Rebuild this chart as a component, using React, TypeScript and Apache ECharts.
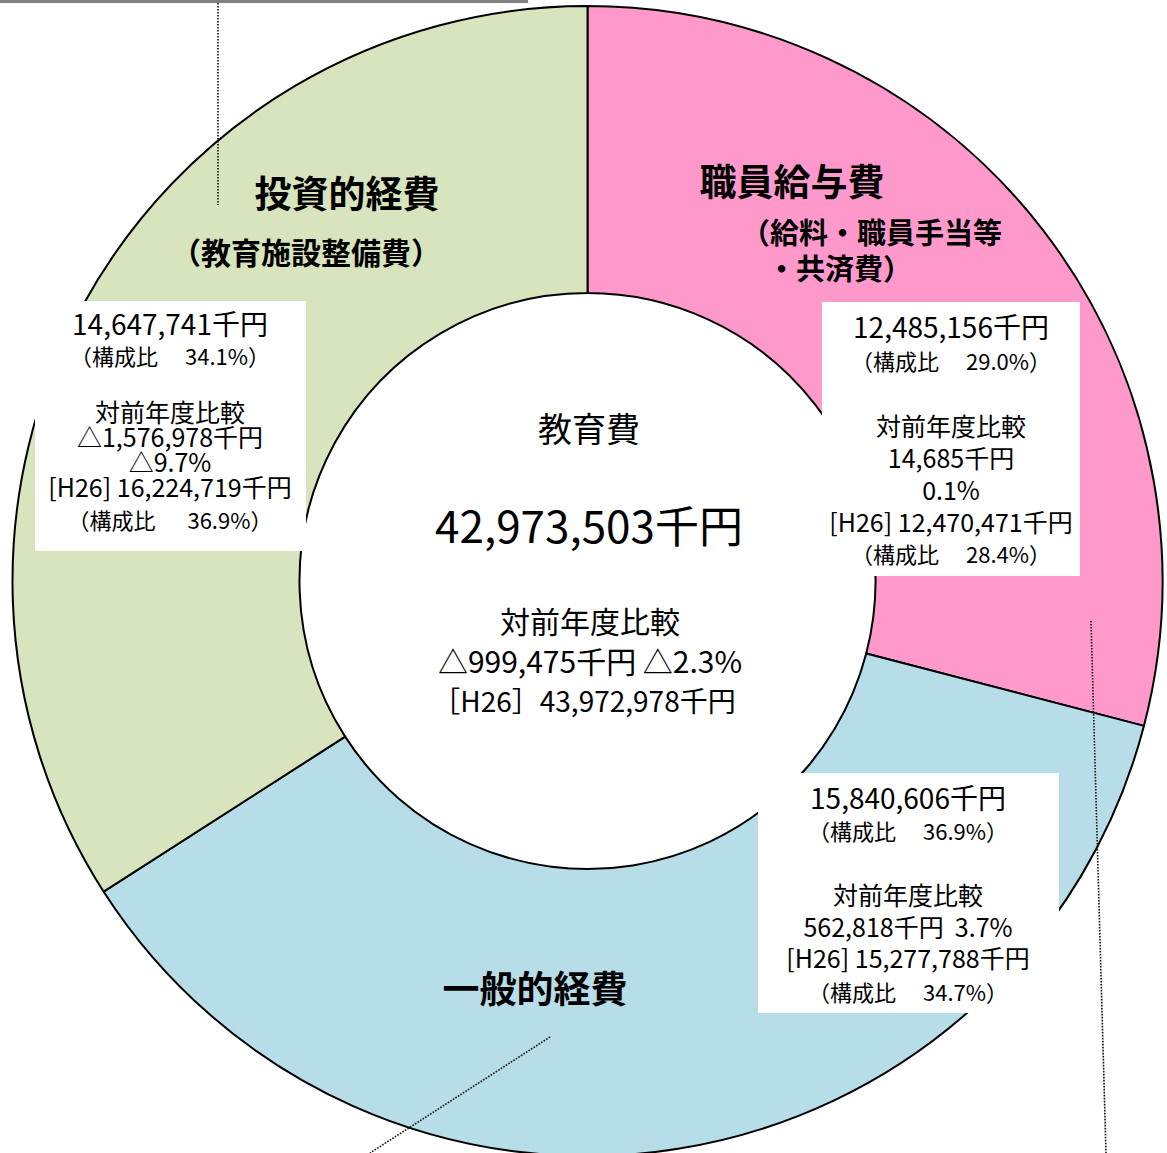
import React, { useEffect, useRef } from "react";
import * as echarts from "echarts";

// ---- data ----
const categories = ["職員給与費", "一般的経費", "投資的経費"];
const values = [12485156, 15840606, 14647741];
const shares = [29.0, 36.9, 34.1];
const diffValues = [14685, 562818, -1576978];
const diffPcts = [0.1, 3.7, -9.7];
const prevValues = [12470471, 15277788, 16224719];
const prevShares = [28.4, 34.7, 36.9];
const colors = ["#FF99CC", "#B7DDE8", "#D7E4BD"];

const centerTitle = "教育費";
const totalValue = 42973503;
const totalDiff = -999475;
const totalDiffPct = -2.3;
const totalPrev = 43972978;

const FONT = '"Noto Sans CJK JP", "Noto Sans CJK SC", sans-serif';

const fmt = (n: number) => Math.abs(n).toLocaleString("en-US");
const sgn = (n: number) => (n < 0 ? "△" : "");
const yen = (n: number) => `${sgn(n)}${fmt(n)}千円`;
const pct = (n: number) => `${sgn(n)}${Math.abs(n).toFixed(1)}%`;
const share = (n: number, gap = "　 ") => `（構成比${gap}${n.toFixed(1)}%）`;

function txt(text: string, x: number, y: number, size: number, bold = false, align = "center") {
  return {
    type: "text",
    z: 100,
    x,
    y,
    silent: true,
    style: {
      text,
      font: `${bold ? "bold " : ""}${size}px ${FONT}`,
      fill: "#000",
      textAlign: align,
      textVerticalAlign: "middle",
    },
  };
}

export default function App() {
  const ref = useRef<HTMLDivElement>(null);

  useEffect(() => {
    if (!ref.current) return;
    const chart = echarts.init(ref.current, undefined, { renderer: "svg" });

    const dotted = (x1: number, y1: number, x2: number, y2: number) => ({
      type: "line",
      z: 90,
      silent: true,
      shape: { x1, y1, x2, y2 },
      style: { stroke: "#111", lineWidth: 1.6, lineDash: [1.6, 1.4] },
    });

    const box = (x: number, y: number, w: number, h: number) => ({
      type: "rect",
      z: 95,
      silent: true,
      shape: { x, y, width: w, height: h },
      style: { fill: "#ffffff" },
    });

    const b1x = 170; // 投資的経費
    const b2x = 951; // 職員給与費
    const b3x = 908; // 一般的経費

    const graphic: any[] = [
      { type: "rect", z: 95, silent: true, shape: { x: 0, y: 0, width: 528, height: 3 }, style: { fill: "#808080" } },
      dotted(218, 0, 218, 205),
      dotted(550, 1037, 370, 1153),
      dotted(1091, 621, 1106, 1153),
      box(35, 301, 271, 250),
      box(822, 302, 258, 274),
      box(758, 773, 301, 240),

      // segment titles
      txt(categories[2], 347, 192, 37, true),
      txt("（教育施設整備費）", 306, 251, 30, true),
      txt(categories[0], 792, 180, 37, true),
      txt("（給料・職員手当等", 741, 231, 29, true, "left"),
      txt("・共済費）", 767, 267, 29, true, "left"),
      txt(categories[1], 535, 987, 37, true),

      // box 1
      txt(yen(values[2]), b1x, 323, 28),
      txt(share(shares[2]), b1x, 355, 22),
      txt("対前年度比較", b1x, 411, 25),
      txt(yen(diffValues[2]), b1x, 436, 25),
      txt(pct(diffPcts[2]), b1x, 461, 25),
      txt(`[H26] ${yen(prevValues[2])}`, b1x, 486, 25),
      txt(share(prevShares[2], "　  "), b1x, 519, 22),

      // box 2
      txt(yen(values[0]), b2x, 326, 28),
      txt(share(shares[0]), b2x, 360, 22),
      txt("対前年度比較", b2x, 425, 25),
      txt(yen(diffValues[0]), b2x, 457, 25),
      txt(pct(diffPcts[0]), b2x, 489, 25),
      txt(`[H26] ${yen(prevValues[0])}`, b2x, 521, 25),
      txt(share(prevShares[0]), b2x, 553, 22),

      // box 3
      txt(yen(values[1]), b3x, 797, 28),
      txt(share(shares[1]), b3x, 830, 22),
      txt("対前年度比較", b3x, 894, 25),
      txt(`${yen(diffValues[1])}  ${pct(diffPcts[1])}`, b3x, 926, 25),
      txt(`[H26] ${yen(prevValues[1])}`, b3x, 957, 25),
      txt(share(prevShares[1]), b3x, 991, 22),

      // center
      txt(centerTitle, 589, 427, 34),
      txt(yen(totalValue), 589, 524, 44),
      txt("対前年度比較", 590, 620, 30),
      txt(`${yen(totalDiff)} ${pct(totalDiffPct)}`, 590, 660, 30),
      txt(`［H26］${yen(totalPrev)}`, 584, 700, 28),
    ];

    chart.setOption({
      animation: false,
      backgroundColor: "#ffffff",
      series: [
        {
          type: "pie",
          center: [587.5, 581],
          radius: [288, 575],
          startAngle: 90,
          clockwise: true,
          silent: true,
          avoidLabelOverlap: false,
          label: { show: false },
          labelLine: { show: false },
          emphasis: { disabled: true },
          itemStyle: { borderColor: "#000", borderWidth: 2 },
          data: categories.map((name, i) => ({
            name,
            value: values[i],
            itemStyle: { color: colors[i] },
          })),
        },
      ],
      graphic,
    });

    return () => chart.dispose();
  }, []);

  return (
    <div
      ref={ref}
      style={{ position: "fixed", left: 0, top: 0, width: 1167, height: 1153, background: "#fff" }}
    />
  );
}
